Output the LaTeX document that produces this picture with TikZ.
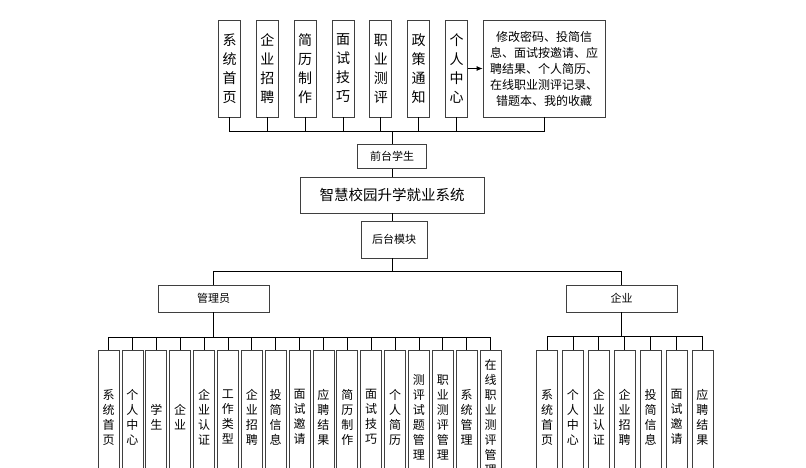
\documentclass[tikz,border=0pt]{standalone}
\usepackage{fontspec}
\setmainfont{Noto Sans CJK SC}
\usepackage{tikz}
\usetikzlibrary{arrows.meta, positioning}
\definecolor{boxdraw}{HTML}{3F3F3F}
\tikzset{
  blk/.style={rectangle, draw=boxdraw, fill=white, line width=0.8pt, align=center, inner sep=1pt},
  topcol/.style={blk, minimum width=22pt, minimum height=97pt, font=\fontsize{14}{19}\selectfont},
  subcol/.style={blk, minimum width=21pt, minimum height=134pt, font=\fontsize{12}{15}\selectfont},
  info/.style={blk, minimum width=122pt, minimum height=97pt, font=\fontsize{12}{16}\selectfont},
  mid/.style={blk, minimum height=24pt, font=\fontsize{11}{13}\selectfont},
  title/.style={blk, minimum width=184pt, minimum height=36pt, font=\fontsize{14.5}{17}\selectfont},
  ln/.style={draw=black, line width=0.8pt},
  arr/.style={->, >={Latex[length=6pt, width=5pt]}, line width=0.8pt, draw=black},
}
\begin{document}
\begin{tikzpicture}[x=1pt, y=-1pt]
  \useasboundingbox (0,0) rectangle (806,467);
  % front end
  \node[topcol] (t1) at (229.5,68.5) {系\\统\\首\\页};
  \node[topcol] (t2) at (267.3,68.5) {企\\业\\招\\聘};
  \node[topcol] (t3) at (305.2,68.5) {简\\历\\制\\作};
  \node[topcol] (t4) at (343.0,68.5) {面\\试\\技\\巧};
  \node[topcol] (t5) at (380.8,68.5) {职\\业\\测\\评};
  \node[topcol] (t6) at (418.7,68.5) {政\\策\\通\\知};
  \node[topcol] (t7) at (456.5,68.5) {个\\人\\中\\心};
  \node[info] (more) at (544,68.5) {修改密码、投简信\\息、面试按邀请、应\\聘结果、个人简历、\\在线职业测评记录、\\错题本、我的收藏};
  \draw[arr] (t7) -- (more);
  \coordinate (topbus) at (392,131);
  \foreach \n in {t1,t2,t3,t4,t5,t6,t7,more}
    \draw[ln] (\n.south) |- (topbus);
  % centre column
  \node[mid, minimum width=69pt] (front) at (392,156.5) {前台学生};
  \node[title] (sys) at (392,195) {智慧校园升学就业系统};
  \node[mid, minimum width=66pt, minimum height=37pt] (back) at (394,239.5) {后台模块};
  \draw[ln] (topbus) -- (front);
  \draw[ln] (front) -- (sys);
  \draw[ln] (sys.south) -- (sys.south |- back.north);
  \coordinate (midbus) at (392,271);
  \draw[ln] (sys.south |- back.south) -- (midbus);
  \node[mid, minimum width=111pt, minimum height=27pt] (adm) at (213.5,298.5) {管理员};
  \node[mid, minimum width=111pt, minimum height=27pt] (ent) at (621.5,298.5) {企业};
  \draw[ln] (midbus) -| (adm);
  \draw[ln] (midbus) -| (ent);
  % admin
  \node[subcol] (a1) at (108.5,417) {系\\统\\首\\页};
  \node[subcol] (a2) at (132.4,417) {个\\人\\中\\心};
  \node[subcol] (a3) at (156.3,417) {学\\生};
  \node[subcol] (a4) at (180.1,417) {企\\业};
  \node[subcol] (a5) at (204.0,417) {企\\业\\认\\证};
  \node[subcol] (a6) at (227.9,417) {工\\作\\类\\型};
  \node[subcol] (a7) at (251.8,417) {企\\业\\招\\聘};
  \node[subcol] (a8) at (275.6,417) {投\\简\\信\\息};
  \node[subcol] (a9) at (299.5,417) {面\\试\\邀\\请};
  \node[subcol] (a10) at (323.4,417) {应\\聘\\结\\果};
  \node[subcol] (a11) at (347.3,417) {简\\历\\制\\作};
  \node[subcol] (a12) at (371.1,417) {面\\试\\技\\巧};
  \node[subcol] (a13) at (395.0,417) {个\\人\\简\\历};
  \node[subcol] (a14) at (418.9,417) {测\\评\\试\\题\\管\\理};
  \node[subcol] (a15) at (442.8,417) {职\\业\\测\\评\\管\\理};
  \node[subcol] (a16) at (466.6,417) {系\\统\\管\\理};
  \node[subcol] (a17) at (490.5,417) {在\\线\\职\\业\\测\\评\\管\\理};
  \coordinate (abus) at (213.5,337);
  \draw[ln, line width=1.1pt] (adm) -- (abus);
  \foreach \n in {a1,a2,a3,a4,a5,a6,a7,a8,a9,a10,a11,a12,a13,a14,a15,a16,a17}
    \draw[ln] (abus) -| (\n);
  % enterprise
  \node[subcol] (e1) at (547.0,417) {系\\统\\首\\页};
  \node[subcol] (e2) at (572.9,417) {个\\人\\中\\心};
  \node[subcol] (e3) at (598.8,417) {企\\业\\认\\证};
  \node[subcol] (e4) at (624.7,417) {企\\业\\招\\聘};
  \node[subcol] (e5) at (650.6,417) {投\\简\\信\\息};
  \node[subcol] (e6) at (676.5,417) {面\\试\\邀\\请};
  \node[subcol] (e7) at (702.4,417) {应\\聘\\结\\果};
  \coordinate (ebus) at (621.5,336);
  \draw[ln, line width=1.1pt] (ent) -- (ebus);
  \foreach \n in {e1,e2,e3,e4,e5,e6,e7}
    \draw[ln] (ebus) -| (\n);
\end{tikzpicture}
\end{document}
